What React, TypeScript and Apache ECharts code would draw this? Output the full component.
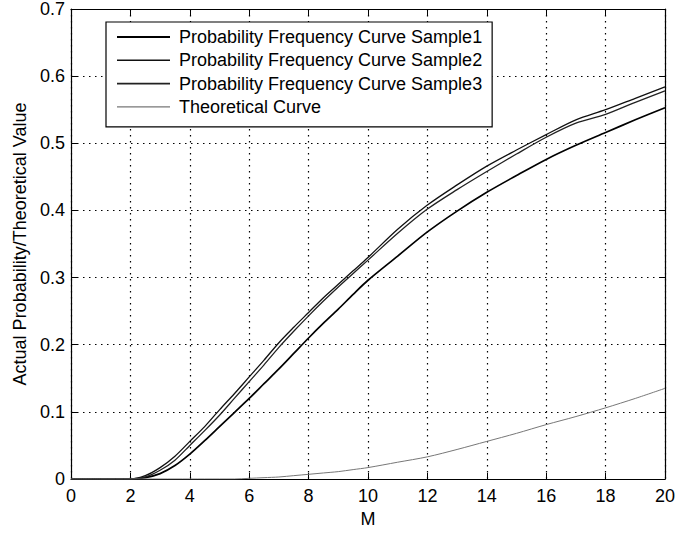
import React, { useEffect, useRef } from "react";
import * as echarts from "echarts";

const xValues = [0, 1, 2, 2.5, 3, 3.5, 4, 4.5, 5, 5.5, 6, 6.5, 7, 7.5, 8, 8.5, 9, 9.5, 10, 11, 12, 13, 14, 15, 16, 17, 18, 19, 20];
const sample1 = [0, 0, 0, 0.002, 0.008, 0.02, 0.037, 0.057, 0.078, 0.099, 0.12, 0.142, 0.164, 0.187, 0.21, 0.232, 0.253, 0.275, 0.296, 0.332, 0.368, 0.399, 0.427, 0.452, 0.476, 0.497, 0.516, 0.535, 0.553];
const sample2 = [0, 0, 0, 0.005, 0.017, 0.034, 0.056, 0.078, 0.103, 0.127, 0.152, 0.177, 0.203, 0.226, 0.248, 0.27, 0.29, 0.31, 0.33, 0.372, 0.408, 0.438, 0.466, 0.49, 0.513, 0.535, 0.55, 0.567, 0.584];
const sample3 = [0, 0, 0, 0.003, 0.013, 0.028, 0.05, 0.072, 0.095, 0.12, 0.145, 0.17, 0.196, 0.22, 0.243, 0.265, 0.286, 0.306, 0.326, 0.366, 0.402, 0.431, 0.458, 0.484, 0.509, 0.53, 0.543, 0.561, 0.578];
const theoretical = [0, 0, 0, 0, 0, 0, 0, 0, 0, 0, 0.001, 0.002, 0.003, 0.005, 0.007, 0.009, 0.011, 0.014, 0.017, 0.025, 0.033, 0.044, 0.056, 0.068, 0.081, 0.093, 0.106, 0.12, 0.135];

const seriesNames = [
  "Probability Frequency Curve Sample1",
  "Probability Frequency Curve Sample2",
  "Probability Frequency Curve Sample3",
  "Theoretical Curve",
];
const xAxisName = "M";
const yAxisName = "Actual Probability/Theoretical Value";

const FONT = "'Liberation Sans', Arial, sans-serif";
const colors = ["#000", "#111", "#222", "#777"];
const widths = [1.7, 1.3, 1.3, 1];

function pairs(ys: number[]) {
  return xValues.map((x, i) => [x, ys[i]]);
}

export default function App() {
  const ref = useRef<HTMLDivElement>(null);
  useEffect(() => {
    if (!ref.current) return;
    const chart = echarts.init(ref.current, null, { renderer: "svg" });
    const tickStyle = { show: true, inside: true, length: 6, lineStyle: { color: "#000", width: 1 } };
    const lineAx = { show: true, onZero: false, lineStyle: { color: "#000", width: 1.2 } };
    const allSeries = [sample1, sample2, sample3, theoretical];
    chart.setOption({
      animation: false,
      backgroundColor: "#fff",
      textStyle: { fontFamily: FONT },
      grid: { left: 71, right: 11, top: 9, bottom: 52 },
      legend: {
        left: 106,
        top: 22,
        orient: "vertical",
        backgroundColor: "#fff",
        borderColor: "#000",
        borderWidth: 1.2,
        borderRadius: 0,
        padding: [6, 10, 11, 11],
        itemWidth: 53,
        itemHeight: 18,
        itemGap: 5.3,
        textStyle: { fontFamily: FONT, fontSize: 18, color: "#000", padding: [0, 0, 0, 4] },
        data: seriesNames.map((n, i) => ({
          name: n,
          icon: "path://M0,0L53,0L53," + (widths[i] + 0.3) + "L0," + (widths[i] + 0.3) + "Z",
          itemStyle: { color: colors[i] },
        })),
      },
      xAxis: [
        {
          type: "value",
          min: 0,
          max: 20,
          interval: 2,
          name: xAxisName,
          nameLocation: "middle",
          nameGap: 31,
          nameTextStyle: { fontFamily: FONT, fontSize: 18, color: "#000" },
          axisLine: lineAx,
          axisTick: tickStyle,
          axisLabel: { fontFamily: FONT, fontSize: 18, color: "#000", margin: 8 },
          splitLine: { show: true, lineStyle: { color: "#000", width: 1.2, type: [1.5, 4.5] } },
        },
        {
          type: "value",
          position: "top",
          min: 0,
          max: 20,
          interval: 2,
          axisLine: lineAx,
          axisTick: tickStyle,
          axisLabel: { show: false },
          splitLine: { show: false },
        },
      ],
      yAxis: [
        {
          type: "value",
          min: 0,
          max: 0.7,
          interval: 0.1,
          name: yAxisName,
          nameLocation: "middle",
          nameGap: 38,
          nameTextStyle: { fontFamily: FONT, fontSize: 18, color: "#000" },
          axisLine: lineAx,
          axisTick: tickStyle,
          axisLabel: { fontFamily: FONT, fontSize: 18, color: "#000", margin: 6 },
          splitLine: { show: true, lineStyle: { color: "#000", width: 1.2, type: [1.5, 4.5] } },
        },
        {
          type: "value",
          position: "right",
          min: 0,
          max: 0.7,
          interval: 0.1,
          axisLine: lineAx,
          axisTick: tickStyle,
          axisLabel: { show: false },
          splitLine: { show: false },
        },
      ],
      series: allSeries.map((ys, i) => ({
        name: seriesNames[i],
        type: "line",
        data: pairs(ys),
        symbol: "none",
        smooth: 0.3,
        color: colors[i],
        lineStyle: { color: colors[i], width: widths[i] },
      })),
    });
    return () => chart.dispose();
  }, []);
  return <div ref={ref} style={{ position: "fixed", left: 0, top: 0, width: 678, height: 533 }} />;
}
